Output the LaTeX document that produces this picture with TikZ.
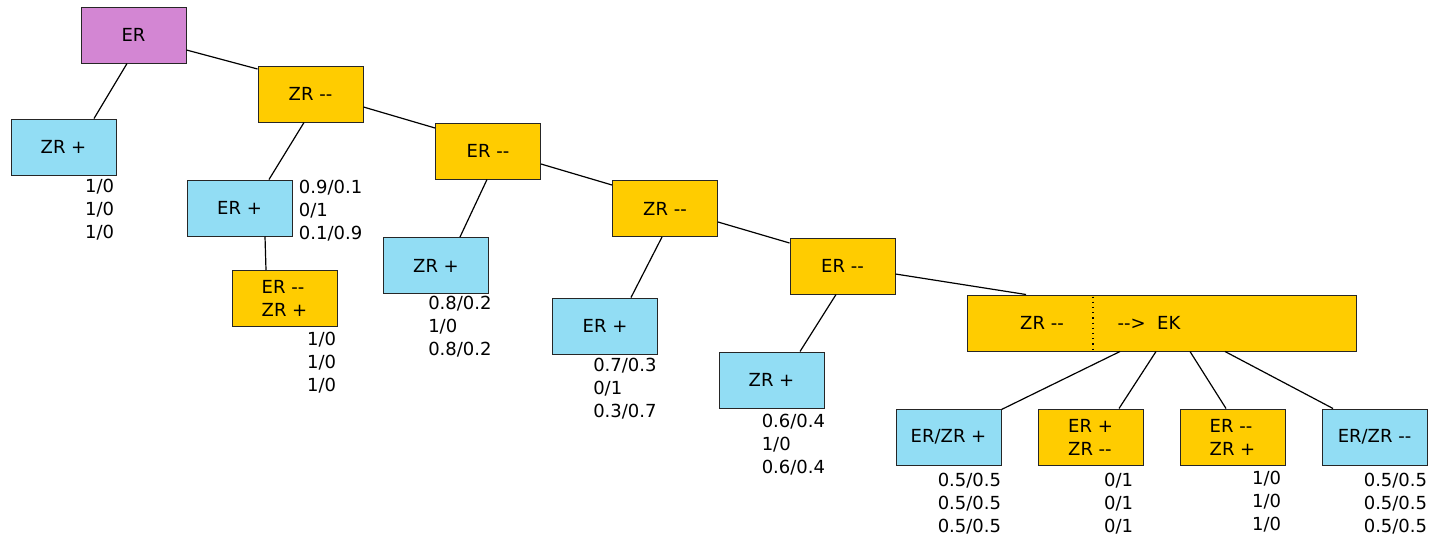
\documentclass[tikz,border=0pt]{standalone}
\usepackage{fontspec}
\setmainfont{DejaVu Sans}
\usetikzlibrary{calc}
\definecolor{cpur}{HTML}{D386D3}
\definecolor{cyel}{HTML}{FFCC00}
\definecolor{cblu}{HTML}{92DDF4}
\newcommand\dm{-\kern0pt-}

\begin{document}
\begin{tikzpicture}[x=0.5pt,y=-0.5pt,font=\fontsize{9}{11.5}\selectfont,
  bx/.style={draw=black!85,line width=0.5pt,minimum width=52.5pt,minimum height=28pt,inner sep=0pt,align=left},
  rt/.style={bx,fill=cpur},
  ye/.style={bx,fill=cyel},
  bl/.style={bx,fill=cblu},
  val/.style={inner sep=0pt,align=left,anchor=north east},
  ln/.style={line width=0.6pt}]
  \useasboundingbox (0,0) rectangle (1434,536);
  \node[rt] (er)   at (133.5,35)    {ER};
  \node[bl] (zp1)  at (63.5,147)    {ZR +};
  \node[ye] (zm1)  at (310.5,94)    {ZR \dm};
  \node[bl] (ep1)  at (239.5,208)   {ER +};
  \node[ye] (ezA)  at (284.5,298.5) {ER \dm\\ZR +};
  \node[ye] (em1)  at (488,151)     {ER \dm};
  \node[bl] (zp2)  at (436,265.5)   {ZR +};
  \node[ye] (zm2)  at (665,208.5)   {ZR \dm};
  \node[bl] (ep2)  at (605,326)     {ER +};
  \node[ye] (em2)  at (842.5,266)   {ER \dm};
  \node[bl] (zp3)  at (771.5,380)   {ZR +};
  \node[ye,minimum width=194.5pt] (ek) at (1161.5,323) {};
  \node (ekl) at (1042,323) {ZR \dm};
  \node (ekr) at (1149,323) {\dm>\ \ EK};
  \node[bl] (ezp)  at (948.5,437)   {ER/ZR +};
  \node[ye] (epzm) at (1090.5,437)  {ER +\\ZR \dm};
  \node[ye] (emzp) at (1232.5,437)  {ER \dm\\ZR +};
  \node[bl] (ezm)  at (1374.5,437)  {ER/ZR \dm};
  \draw[dotted,line width=0.6pt] ($(ek.north)+(-68.5,2)$) -- ($(ek.south)+(-68.5,-2)$);
  \draw[ln] ($(er.south)+(-6.5,0)$)  -- ($(zp1.north)+(30.5,0)$);
  \draw[ln] ($(er.east)+(0,15)$)     -- ($(zm1.west)+(0,-25)$);
  \draw[ln] ($(zm1.south)+(-6.5,0)$) -- ($(ep1.north)+(29.5,0)$);
  \draw[ln] ($(ep1.south)+(25.5,0)$) -- ($(ezA.north)+(-18.5,0)$);
  \draw[ln] ($(zm1.east)+(0,13)$)    -- ($(em1.west)+(0,-23)$);
  \draw[ln] ($(em1.south)+(-1,0)$)   -- ($(zp2.north)+(24,0)$);
  \draw[ln] ($(em1.east)+(0,13)$)    -- ($(zm2.west)+(0,-23.5)$);
  \draw[ln] ($(zm2.south)+(-3,0)$)   -- ($(ep2.north)+(26,0)$);
  \draw[ln] ($(zm2.east)+(0,13.5)$)  -- ($(em2.west)+(0,-23)$);
  \draw[ln] ($(em2.south)+(-6.5,0)$) -- ($(zp3.north)+(28.5,0)$);
  \draw[ln] ($(em2.east)+(0,8)$)     -- ($(ek.north)+(-135.5,0)$);
  \draw[ln] ($(ek.south)+(-41.5,0)$) -- ($(ezp.north east)+(0,1)$);
  \draw[ln] ($(ek.south)+(-5.5,0)$)  -- ($(epzm.north)+(28.5,0)$);
  \draw[ln] ($(ek.south)+(28.5,0)$)  -- ($(emzp.north)+(-6.5,0)$);
  \draw[ln] ($(ek.south)+(63.5,0)$)  -- ($(ezm.north)+(-41.5,0)$);
  \node[val] (v1) at ($(zp1.south east)+(-2,3)$) {1/0\\1/0\\1/0};
  \node[val,anchor=north west] (v2) at ($(ep1.north east)+(6,0)$) {0.9/0.1\\0/1\\0.1/0.9};
  \node[val] (v3) at ($(ezA.south east)+(-1,5)$) {1/0\\1/0\\1/0};
  \node[val] (v4) at ($(zp2.south east)+(3,2)$) {0.8/0.2\\1/0\\0.8/0.2};
  \node[val] (v5) at ($(ep2.south east)+(-1,3)$) {0.7/0.3\\0/1\\0.3/0.7};
  \node[val] (v6) at ($(zp3.south east)+(1,5)$) {0.6/0.4\\1/0\\0.6/0.4};
  \node[val] (v7) at ($(ezp.south east)+(0,7)$) {0.5/0.5\\0.5/0.5\\0.5/0.5};
  \node[val] (v8) at ($(epzm.south east)+(-10,7)$) {0/1\\0/1\\0/1};
  \node[val] (v9) at ($(emzp.south east)+(-4,5)$) {1/0\\1/0\\1/0};
  \node[val] (v10) at ($(ezm.south east)+(0,7)$) {0.5/0.5\\0.5/0.5\\0.5/0.5};
\end{tikzpicture}
\end{document}
